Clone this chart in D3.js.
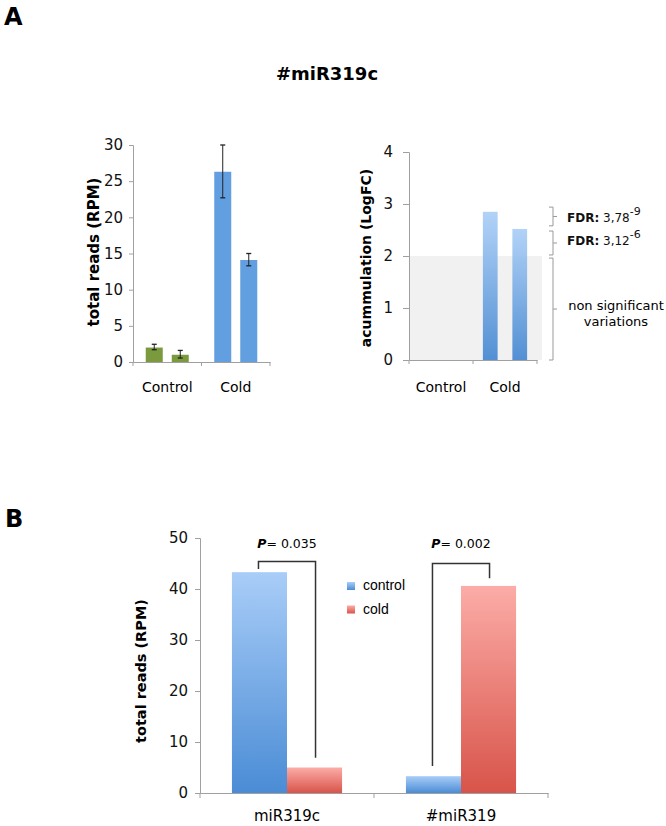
<!DOCTYPE html>
<html><head><meta charset="utf-8">
<script src="https://cdn.jsdelivr.net/npm/d3@7"></script>
<style>
body{margin:0;background:#fff;}
svg{display:block;font-family:"DejaVu Sans",sans-serif;}
.axis path,.axis line{stroke:#a0a0a0;}
.axis text{fill:#111;}
</style></head>
<body>
<svg id="c" width="666" height="826"></svg>
<script>
// ---- Panel A left: total reads (RPM)
const aGroups = ["Control","Cold"];
const aRepl = ["r1","r2"];
const aMeans = {Control:[2.0,1.0], Cold:[26.3,14.1]};
const aLow   = {Control:[1.7,0.55], Cold:[22.7,13.3]};
const aHigh  = {Control:[2.45,1.6], Cold:[30.0,15.0]};
const aTicks = [0,5,10,15,20,25,30];

// ---- Panel A right: accumulation (LogFC)
const fcGroups = ["Control","Cold"];
const fcValues = {Control:[0,0], Cold:[2.85,2.52]};
const fcTicks = [0,1,2,3,4];
const fcThreshold = 2;
const fdrBrackets = [[2.94,2.58],[2.48,2.02],[1.96,0]];
const fdrLabels = [["FDR:"," 3,78","-9"],["FDR:"," 3,12","-6"]];
const nsLabel = ["non significant","variations"];

// ---- Panel B
const bGroups = ["miR319c","#miR319"];
const bSeries = ["control","cold"];
const bValues = {"miR319c":[43.3,5.0], "#miR319":[3.3,40.6]};
const bTicks = [0,10,20,30,40,50];
const bBrackets = [ {g:"miR319c", top:45.4, left:43.9, right:6.9, p:"0.035"},
                    {g:"#miR319", top:45.0, left:5.3, right:42.1, p:"0.002"} ];

const svg = d3.select("#c");
const defs = svg.append("defs");
function grad(id, top, bottom){
  const g = defs.append("linearGradient").attr("id",id).attr("x1",0).attr("y1",0).attr("x2",0).attr("y2",1);
  g.append("stop").attr("offset","0%").attr("stop-color",top);
  g.append("stop").attr("offset","100%").attr("stop-color",bottom);
}
grad("gBlue","#a9cdf8","#4a8cd5");
grad("gRed","#fcaca7","#d8544a");
grad("gFc","#aed0f7","#4a8bd2");

// labels
svg.append("text").attr("x",4).attr("y",25).attr("font-size",24).attr("font-weight","bold").text("A");
svg.append("text").attr("x",5).attr("y",527).attr("font-size",24).attr("font-weight","bold").text("B");
svg.append("text").attr("x",327).attr("y",80).attr("text-anchor","middle").attr("font-size",18).attr("font-weight","bold").text("#miR319c");

// ===== Panel A left
{
  const y = d3.scaleLinear().domain([0,30]).range([362,145]);
  const x0 = d3.scaleBand().domain(aGroups).range([133,270]);
  const x1 = d3.scaleBand().domain(aRepl).range([0,x0.bandwidth()]).paddingInner(0.346).paddingOuter(0.49);
  const g = svg.append("g");
  g.append("g").attr("class","axis").attr("transform","translate(133,0)")
    .call(d3.axisLeft(y).tickValues(aTicks).tickSize(4).tickPadding(6))
    .call(s=>s.selectAll("text").attr("font-size",15).attr("font-family","DejaVu Sans"));
  const xa = g.append("g").attr("class","axis").attr("transform","translate(0,362)")
    .call(d3.axisBottom(x0).tickSize(0).tickPadding(0));
  xa.selectAll("text").remove();
  [133,201.5,270].forEach(v=>xa.append("line").attr("x1",v).attr("x2",v).attr("y1",0).attr("y2",4));
  const colors = {Control:"#7b9a3e", Cold:"#629fe0"};
  aGroups.forEach(gr=>{
    aRepl.forEach((r,i)=>{
      const bx = x0(gr)+x1(r);
      g.append("rect").attr("x",bx).attr("width",x1.bandwidth())
        .attr("y",y(aMeans[gr][i])).attr("height",y(0)-y(aMeans[gr][i])).attr("fill",colors[gr]);
      const cx = bx + x1.bandwidth()/2;
      g.append("line").attr("x1",cx).attr("x2",cx).attr("y1",y(aLow[gr][i])).attr("y2",y(aHigh[gr][i])).attr("stroke","#222").attr("stroke-width",1);
      [aLow[gr][i],aHigh[gr][i]].forEach(v=>g.append("line").attr("x1",cx-2.5).attr("x2",cx+2.5).attr("y1",y(v)).attr("y2",y(v)).attr("stroke","#222").attr("stroke-width",1.3));
    });
    g.append("text").attr("x",x0(gr)+x0.bandwidth()/2).attr("y",392).attr("text-anchor","middle").attr("font-size",14).text(gr);
  });
  g.append("text").attr("transform","translate(99,252) rotate(-90)").attr("text-anchor","middle")
    .attr("font-size",15).attr("font-weight","bold").text("total reads (RPM)");
}

// ===== Panel A right
{
  const y = d3.scaleLinear().domain([0,4]).range([360,152]);
  const x0 = d3.scaleBand().domain(fcGroups).range([409,537]);
  const x1 = d3.scaleBand().domain([0,1]).range([0,x0.bandwidth()]).paddingInner(0.5).paddingOuter(0.335);
  const g = svg.append("g");
  g.append("rect").attr("x",409).attr("width",133).attr("y",y(fcThreshold)).attr("height",y(0)-y(fcThreshold)).attr("fill","#f1f1f1");
  g.append("g").attr("class","axis").attr("transform","translate(409,0)")
    .call(d3.axisLeft(y).tickValues(fcTicks).tickFormat(d3.format("d")).tickSize(6).tickPadding(10))
    .call(s=>s.selectAll("text").attr("font-size",15).attr("font-family","DejaVu Sans"));
  const xa = g.append("g").attr("class","axis").attr("transform","translate(0,360)")
    .call(d3.axisBottom(x0).tickSize(0).tickPadding(0));
  xa.selectAll("text").remove();
  [409,473,537].forEach(v=>xa.append("line").attr("x1",v).attr("x2",v).attr("y1",0).attr("y2",4).attr("stroke","#a0a0a0"));
  fcGroups.forEach(gr=>{
    fcValues[gr].forEach((v,i)=>{
      if(v<=0) return;
      g.append("rect").attr("x",x0(gr)+x1(i)).attr("width",x1.bandwidth())
        .attr("y",y(v)).attr("height",y(0)-y(v)).attr("fill","url(#gFc)").attr("opacity",0.95);
    });
    g.append("text").attr("x",x0(gr)+x0.bandwidth()/2).attr("y",392).attr("text-anchor","middle").attr("font-size",14).text(gr);
  });
  const bxp = 553;
  fdrBrackets.forEach(b=>{
    const y1=y(b[0]), y2=y(b[1]), ym=(y1+y2)/2;
    g.append("path").attr("d",`M${bxp-4},${y1}H${bxp}V${y2}H${bxp-4}M${bxp},${ym}H${bxp+4}`)
      .attr("fill","none").attr("stroke","#999").attr("stroke-width",1);
  });
  fdrLabels.forEach((l,i)=>{
    const ty = [222,245][i];
    const t = g.append("text").attr("x",567).attr("y",ty).attr("font-size",12).attr("fill","#111");
    t.append("tspan").attr("font-weight","bold").text(l[0]);
    t.append("tspan").text(l[1]);
    t.append("tspan").attr("dy",-7).attr("font-size",11).text(l[2]);
  });
  nsLabel.forEach((l,i)=>g.append("text").attr("x",616).attr("y",310+i*16).attr("text-anchor","middle").attr("font-size",13).text(l));
  g.append("text").attr("transform","translate(371,258) rotate(-90)").attr("text-anchor","middle")
    .attr("font-size",14).attr("font-weight","bold").text("acummulation (LogFC)");
}

// ===== Panel B
{
  const y = d3.scaleLinear().domain([0,50]).range([793,538]);
  const x0 = d3.scaleBand().domain(bGroups).range([200,548]).paddingOuter(0);
  const x1 = d3.scaleBand().domain(bSeries).range([0,x0.bandwidth()]).paddingInner(0).paddingOuter(0.58);
  const g = svg.append("g");
  g.append("g").attr("class","axis").attr("transform","translate(200,0)")
    .call(d3.axisLeft(y).tickValues(bTicks).tickSize(5).tickPadding(7))
    .call(s=>s.selectAll("text").attr("font-size",15).attr("font-family","DejaVu Sans"));
  const xa = g.append("g").attr("class","axis").attr("transform","translate(0,793)")
    .call(d3.axisBottom(x0).tickSize(0).tickPadding(0));
  xa.selectAll("text").remove();
  [200,374,548].forEach(v=>xa.append("line").attr("x1",v).attr("x2",v).attr("y1",0).attr("y2",5).attr("stroke","#a0a0a0"));
  const fills = {control:"url(#gBlue)", cold:"url(#gRed)"};
  bGroups.forEach(gr=>{
    bSeries.forEach((s,i)=>{
      const v = bValues[gr][i];
      g.append("rect").attr("x",x0(gr)+x1(s)).attr("width",x1.bandwidth())
        .attr("y",y(v)).attr("height",y(0)-y(v)).attr("fill",fills[s]);
    });
    g.append("text").attr("x",x0(gr)+x0.bandwidth()/2).attr("y",821).attr("text-anchor","middle").attr("font-size",15).text(gr);
  });
  bBrackets.forEach(b=>{
    const xl = x0(b.g)+x1("control")+x1.bandwidth()/2 - 1;
    const xr = x0(b.g)+x1("cold")+x1.bandwidth()/2 + 1;
    g.append("path").attr("d",`M${xl},${y(b.left)}V${y(b.top)}H${xr}V${y(b.right)}`)
      .attr("fill","none").attr("stroke","#333").attr("stroke-width",1.5);
    const t = g.append("text").attr("x",(xl+xr)/2).attr("y",548).attr("text-anchor","middle").attr("font-size",12.5);
    t.append("tspan").attr("font-weight","bold").attr("font-style","italic").text("P");
    t.append("tspan").text("= "+b.p);
  });
  // legend
  bSeries.forEach((s,i)=>{
    g.append("rect").attr("x",347).attr("y",582+i*23.5).attr("width",8).attr("height",8).attr("fill",fills[s]);
    g.append("text").attr("x",363).attr("y",590+i*23.5).attr("font-size",14).attr("font-family","Liberation Sans, Arial").text(s);
  });
  g.append("text").attr("transform","translate(146,671) rotate(-90)").attr("text-anchor","middle")
    .attr("font-size",14.5).attr("font-weight","bold").text("total reads (RPM)");
}
</script>
</body></html>
